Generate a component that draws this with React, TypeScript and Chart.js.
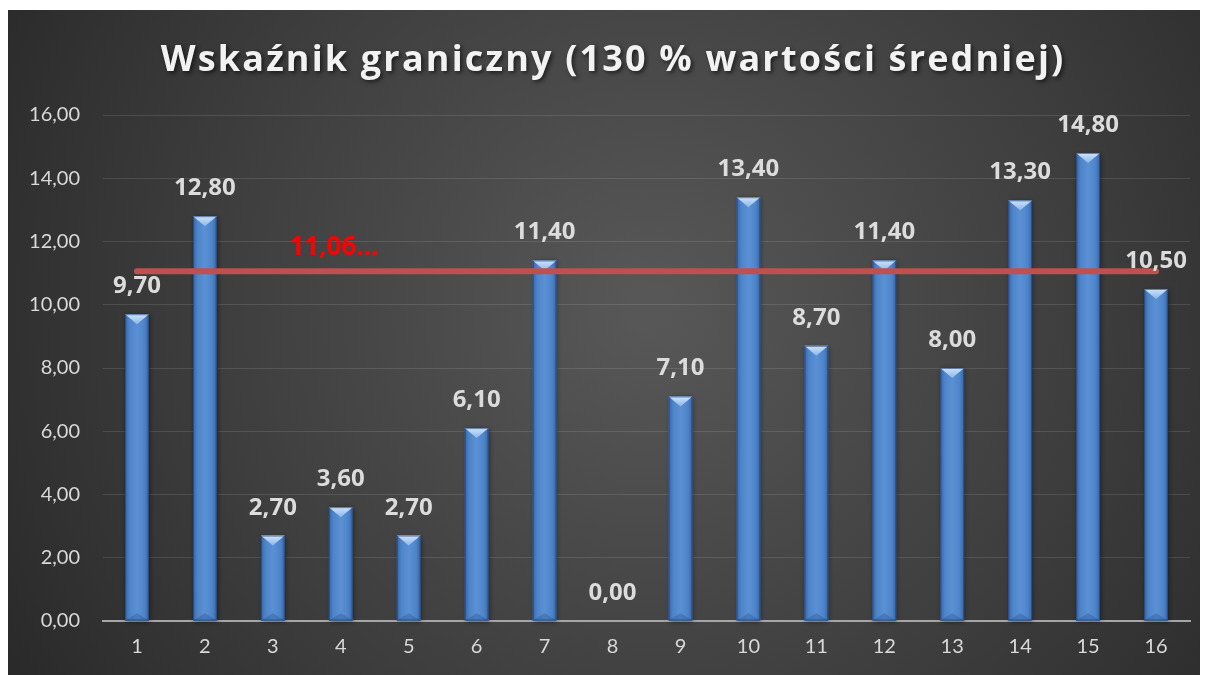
import React, { useEffect, useRef } from 'react';
import { Chart, registerables } from 'chart.js';

Chart.register(...registerables);

const titleText = 'Wskaźnik graniczny (130 % wartości średniej)';
const categories = ['1', '2', '3', '4', '5', '6', '7', '8', '9', '10', '11', '12', '13', '14', '15', '16'];
const values = [9.7, 12.8, 2.7, 3.6, 2.7, 6.1, 11.4, 0.0, 7.1, 13.4, 8.7, 11.4, 8.0, 13.3, 14.8, 10.5];
const thresholdValues = [11.06, 11.06, 11.06, 11.06, 11.06, 11.06, 11.06, 11.06, 11.06, 11.06, 11.06, 11.06, 11.06, 11.06, 11.06, 11.06];
const thresholdLabel = '11,06...';
const yMin = 0;
const yMax = 16;
const yStep = 2;

const FONT = 'Lato, "Open Sans", sans-serif';
const BOLD_FONT = '"Open Sans", Lato, sans-serif';
const fmt = (v: number) => v.toFixed(2).replace('.', ',');

const bgPlugin = {
  id: 'bgPlugin',
  beforeDraw(chart: any) {
    const { ctx, width, height } = chart;
    ctx.save();
    const g = ctx.createRadialGradient(640, 300, 20, 640, 300, 820);
    g.addColorStop(0, '#575757');
    g.addColorStop(0.55, '#3c3c3c');
    g.addColorStop(1, '#242424');
    ctx.fillStyle = g;
    ctx.fillRect(0, 2, width, height - 2);
    ctx.restore();
  },
};

const barStylePlugin = {
  id: 'barStylePlugin',
  afterDatasetDraw(chart: any, args: any) {
    if (args.index !== 0) return;
    const { ctx } = chart;
    const meta = chart.getDatasetMeta(0);
    ctx.save();
    meta.data.forEach((el: any) => {
      const { x, y, base, width } = el.getProps(['x', 'y', 'base', 'width'], true);
      const h = base - y;
      if (h <= 0.5) return;
      const l = x - width / 2;
      const r = x + width / 2;
      ctx.shadowColor = 'rgba(0,0,0,0.45)';
      ctx.shadowBlur = 5;
      ctx.shadowOffsetX = 1;
      ctx.shadowOffsetY = 1;
      const g = ctx.createLinearGradient(l, 0, r, 0);
      g.addColorStop(0, '#3565a8');
      g.addColorStop(0.18, '#4d83c8');
      g.addColorStop(0.5, '#5b91d4');
      g.addColorStop(0.82, '#4d83c8');
      g.addColorStop(1, '#3565a8');
      ctx.fillStyle = g;
      ctx.fillRect(l, y, width, h);
      ctx.shadowColor = 'transparent';
      ctx.shadowBlur = 0;
      ctx.shadowOffsetX = 0;
      ctx.shadowOffsetY = 0;
      const th = Math.min(width * 0.42, h);
      const tg = ctx.createLinearGradient(0, y, 0, y + th);
      tg.addColorStop(0, '#cfe3fb');
      tg.addColorStop(1, '#8db6e8');
      ctx.fillStyle = tg;
      ctx.beginPath();
      ctx.moveTo(l, y);
      ctx.lineTo(r, y);
      ctx.lineTo(x, y + th);
      ctx.closePath();
      ctx.fill();
      const bh = Math.min(width * 0.3, h);
      ctx.fillStyle = 'rgba(40,80,140,0.35)';
      ctx.beginPath();
      ctx.moveTo(l, base);
      ctx.lineTo(r, base);
      ctx.lineTo(x, base - bh);
      ctx.closePath();
      ctx.fill();
      ctx.strokeStyle = 'rgba(30,60,110,0.6)';
      ctx.lineWidth = 1;
      ctx.strokeRect(l + 0.5, y + 0.5, width - 1, h - 1);
    });
    ctx.restore();
  },
};

const labelPlugin = {
  id: 'labelPlugin',
  afterDraw(chart: any) {
    const { ctx, width } = chart;
    const xs = chart.scales.x;
    const ys = chart.scales.y;
    ctx.save();
    ctx.font = `bold 36px ${BOLD_FONT}`;
    ctx.fillStyle = '#f2f2f2';
    ctx.textAlign = 'center';
    ctx.textBaseline = 'alphabetic';
    const raw = ctx.measureText(titleText).width;
    const spacing = Math.max(0, (905 - raw) / titleText.length);
    (ctx as any).letterSpacing = `${spacing.toFixed(2)}px`;
    ctx.shadowColor = 'rgba(0,0,0,0.6)';
    ctx.shadowBlur = 4;
    ctx.shadowOffsetX = 2;
    ctx.shadowOffsetY = 2;
    ctx.fillText(titleText, width / 2 + 8 + spacing / 2, 63);
    (ctx as any).letterSpacing = '0px';
    ctx.shadowColor = 'transparent';
    ctx.shadowBlur = 0;
    ctx.shadowOffsetX = 0;
    ctx.shadowOffsetY = 0;

    const meta = chart.getDatasetMeta(0);
    ctx.font = `bold 24px ${BOLD_FONT}`;
    ctx.fillStyle = '#dcdcdc';
    ctx.textAlign = 'center';
    ctx.textBaseline = 'alphabetic';
    meta.data.forEach((el: any, i: number) => {
      const { x, y } = el.getProps(['x', 'y'], true);
      ctx.fillText(fmt(values[i]), x, y - 21);
    });

    ctx.font = `bold 26px ${BOLD_FONT}`;
    ctx.fillStyle = '#ff0000';
    const lx = xs.getPixelForValue(2.9);
    const ly = ys.getPixelForValue(thresholdValues[3]) - 16;
    ctx.fillText(thresholdLabel, lx, ly);
    ctx.restore();
  },
};

export default function App() {
  const ref = useRef<HTMLCanvasElement>(null);
  useEffect(() => {
    document.body.style.overflow = 'hidden';
    const canvas = ref.current!;
    const chart = new Chart(canvas, {
      type: 'bar',
      data: {
        labels: categories,
        datasets: [
          {
            type: 'bar',
            label: 'Wskaźnik',
            data: values,
            backgroundColor: '#4f81bd',
            borderWidth: 0,
            barPercentage: 0.35,
            categoryPercentage: 1,
            order: 1,
          },
          {
            type: 'line',
            label: '130 % wartości średniej',
            data: thresholdValues,
            borderColor: '#c0504d',
            borderWidth: 6,
            borderCapStyle: 'round',
            pointRadius: 0,
            fill: false,
            order: 0,
          } as any,
        ],
      },
      options: {
        animation: false,
        responsive: false,
        devicePixelRatio: 1,
        layout: { padding: { top: 107, right: 10, left: 0, bottom: 0 } },
        plugins: {
          legend: { display: false },
          title: { display: false },
          tooltip: { enabled: false },
        },
        scales: {
          x: {
            grid: { display: false, drawTicks: false },
            border: { display: true, color: '#a6a6a6', width: 2 },
            ticks: {
              color: '#d9d9d9',
              font: { family: FONT, size: 20 },
              padding: 14,
            },
            afterFit(scale: any) {
              scale.height = 54;
            },
          },
          y: {
            min: yMin,
            max: yMax,
            grid: { color: 'rgba(255,255,255,0.11)', lineWidth: 1, drawTicks: false },
            border: { display: false },
            ticks: {
              stepSize: yStep,
              color: '#d9d9d9',
              font: { family: FONT, size: 20 },
              padding: 23,
              callback: (v: any) => fmt(Number(v)),
            },
            afterFit(scale: any) {
              scale.width = 95;
            },
          },
        },
      },
      plugins: [bgPlugin, barStylePlugin, labelPlugin],
    });
    return () => chart.destroy();
  }, []);
  return (
    <div style={{ width: 1192, height: 667 }}>
      <canvas ref={ref} width={1192} height={667} style={{ display: 'block' }} />
    </div>
  );
}
